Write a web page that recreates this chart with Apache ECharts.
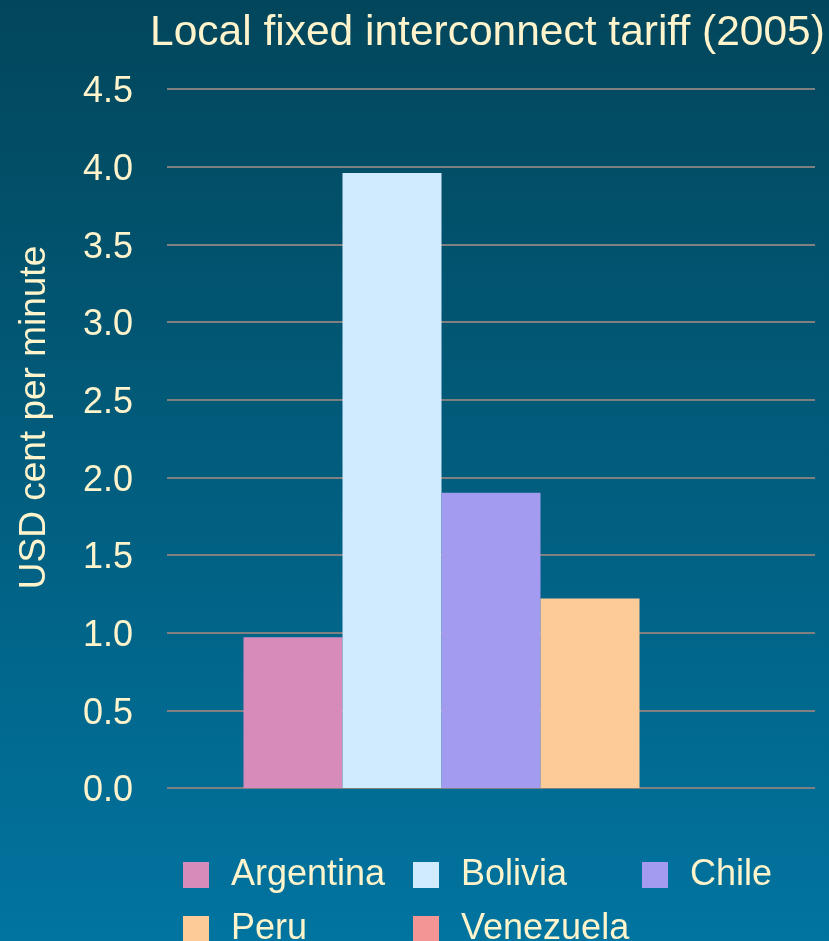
<!DOCTYPE html>
<html>
<head>
<meta charset="utf-8">
<title>Local fixed interconnect tariff (2005)</title>
<script src="https://cdn.jsdelivr.net/npm/echarts@6/dist/echarts.min.js"></script>
<style>
  html, body { margin: 0; padding: 0; }
  #chart { width: 829px; height: 941px; }
</style>
</head>
<body>
<div id="chart"></div>
<script>
// 数据
const countries = ['Argentina', 'Bolivia', 'Chile', 'Peru', 'Venezuela']
const tariffs = [0.97, 3.96, 1.90, 1.22, 0]
const barColors = ['#d68bbb', '#d0eaff', '#a29bef', '#fdcb98', '#f49595']
const yTicks = { min: 0, max: 4.5, interval: 0.5 }

const cream = '#fff4cc'
const font = 'Liberation Sans, Arial, sans-serif'

const chart = echarts.init(document.getElementById('chart'))

// 每个国家一个系列，类目只有一个
const getSeries = () => countries.map((name, i) => ({
  name: name,
  type: 'bar',
  barWidth: 99,
  barGap: '0%',
  itemStyle: { color: barColors[i] },
  data: [tariffs[i]]
}))

// 图例按三列排，用多个 legend 定位
const legendPos = [[183, 857], [413, 857], [642, 857], [183, 911], [413, 911]]
const getLegends = () => countries.map((name, i) => ({
  data: [name],
  left: legendPos[i][0],
  top: legendPos[i][1],
  padding: 0,
  icon: 'rect',
  itemWidth: 26,
  itemHeight: 26,
  textStyle: {
    color: cream,
    fontSize: 36,
    fontFamily: font,
    lineHeight: 36,
    padding: [0, 0, 0, 17]
  }
}))

const options = {
  backgroundColor: {
    type: 'linear', x: 0, y: 0, x2: 0, y2: 1,
    colorStops: [
      { offset: 0, color: '#02465b' },
      { offset: 1, color: '#0174a0' }
    ]
  },
  title: {
    text: 'Local fixed interconnect tariff (2005)',
    left: 150,
    top: 12,
    padding: 0,
    textStyle: { color: cream, fontSize: 42.5, fontWeight: 'normal', fontFamily: font }
  },
  legend: getLegends(),
  grid: { left: 167, right: 14, top: 89, bottom: 153 },
  xAxis: {
    type: 'category',
    data: [''],
    axisLine: { show: false },
    axisTick: { show: false },
    axisLabel: { show: false }
  },
  yAxis: {
    type: 'value',
    min: yTicks.min,
    max: yTicks.max,
    interval: yTicks.interval,
    name: 'USD cent per minute',
    nameLocation: 'middle',
    nameRotate: 90,
    nameGap: 114,
    nameTextStyle: { color: cream, fontSize: 37, fontFamily: font, padding: [0, 0, 0, 42] },
    axisLine: { show: false },
    axisTick: { show: false },
    axisLabel: {
      color: cream,
      fontSize: 36,
      fontFamily: font,
      margin: 34,
      formatter: v => '{v|' + v.toFixed(1) + '}',
      rich: {
        v: { color: cream, fontSize: 36, fontFamily: font, padding: [7, 0, 0, 0] }
      }
    },
    splitLine: { lineStyle: { color: '#808080', width: 2 } }
  },
  series: getSeries()
}

chart.setOption(options)
</script>
</body>
</html>
